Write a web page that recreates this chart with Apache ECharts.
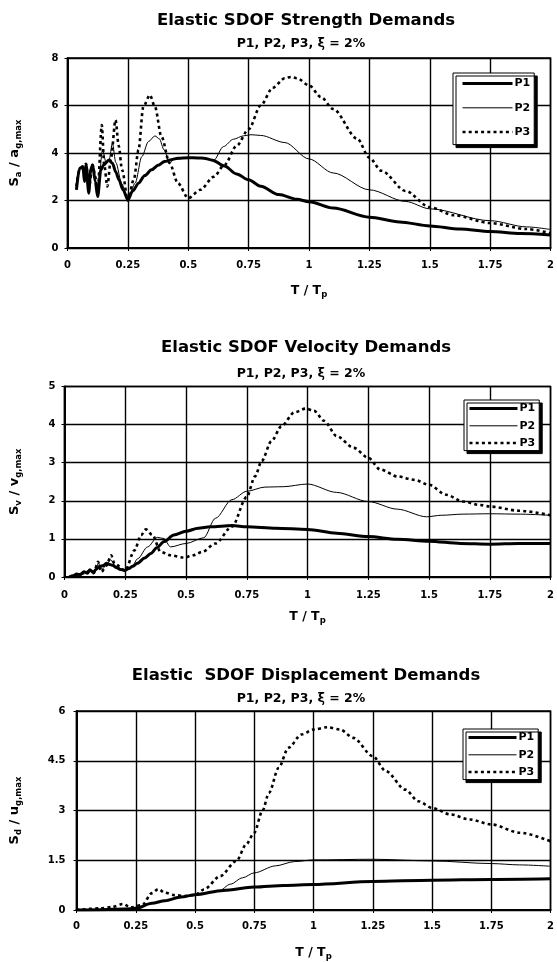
<!DOCTYPE html>
<html><head><meta charset="utf-8">
<script src="https://cdn.jsdelivr.net/npm/echarts@6/dist/echarts.min.js"></script>
<style>html,body{margin:0;padding:0;background:#fff}#c{width:557px;height:962px}</style>
</head><body><div id="c"></div>
<script>
// ---------- Chart 1: Strength demands (Sa / ag,max) ----------
const SA_T1 = [0.037,0.05,0.064,0.07,0.077,0.088,0.096,0.104,0.115,0.125,0.138,0.15,0.172,0.186,0.2,0.213,0.23,0.25,0.27,0.294,0.32,0.348,0.375,0.402,0.43,0.457,0.5,0.54,0.565,0.6,0.65,0.7,0.75,0.8,0.875,0.95,1,1.1,1.25,1.375,1.5,1.625,1.75,1.875,2];
const SA_P1 = [2.45,3.36,3.43,2.8,3.5,2.31,3.3,3.5,2.8,2.17,3.29,3.5,3.71,3.57,3.2,2.87,2.45,2.03,2.4,2.73,3.05,3.29,3.48,3.64,3.72,3.78,3.8,3.79,3.78,3.7,3.45,3.12,2.87,2.6,2.25,2.05,1.95,1.68,1.3,1.1,0.93,0.8,0.69,0.61,0.55];
const SA_T2 = [0.037,0.05,0.064,0.07,0.077,0.088,0.096,0.104,0.115,0.125,0.145,0.16,0.172,0.186,0.2,0.225,0.25,0.28,0.308,0.335,0.362,0.38,0.4,0.423,0.44,0.5,0.55,0.605,0.646,0.687,0.728,0.76,0.8,0.9,1,1.1,1.25,1.4,1.5,1.75,1.9,2];
const SA_P2 = [2.5,3.3,3.4,2.9,3.45,2.35,3.2,3.45,2.8,2.25,4.13,3.6,3.7,4.41,3.6,2.7,2.03,2.73,3.85,4.48,4.72,4.6,4.13,3.57,3.73,3.8,3.79,3.69,4.27,4.58,4.72,4.77,4.74,4.44,3.75,3.16,2.45,1.96,1.65,1.15,0.89,0.78];
const SA_T3 = [0.037,0.05,0.064,0.077,0.088,0.104,0.115,0.125,0.142,0.152,0.165,0.18,0.199,0.212,0.226,0.25,0.275,0.294,0.314,0.341,0.362,0.389,0.423,0.457,0.5,0.55,0.606,0.65,0.7,0.75,0.8,0.85,0.9,0.925,0.95,1,1.05,1.1,1.2,1.25,1.3,1.4,1.5,1.6,1.75,1.9,2];
const SA_P3 = [2.6,3.3,3.4,3.55,2.5,3.5,3.0,2.4,5.18,3.5,2.59,3.8,5.39,4.3,3.29,2.0,2.9,4.13,5.95,6.44,5.95,4.69,3.57,2.73,2.1,2.45,3.0,3.5,4.3,5.0,6.0,6.75,7.15,7.2,7.15,6.85,6.35,5.85,4.6,3.8,3.25,2.4,1.72,1.38,1.05,0.8,0.62];

// ---------- Chart 2: Velocity demands (Sv / vg,max) ----------
const SV_T1 = [0.02,0.035,0.05,0.065,0.08,0.095,0.104,0.118,0.13,0.145,0.16,0.172,0.186,0.2,0.213,0.23,0.247,0.265,0.28,0.3,0.33,0.355,0.38,0.41,0.45,0.5,0.55,0.6,0.69,0.75,0.87,1,1.12,1.25,1.37,1.5,1.63,1.75,1.87,2];
const SV_P1 = [0,0.03,0.08,0.06,0.14,0.1,0.19,0.12,0.2,0.28,0.3,0.36,0.33,0.3,0.25,0.2,0.17,0.22,0.28,0.36,0.5,0.62,0.77,0.93,1.1,1.2,1.28,1.32,1.35,1.32,1.28,1.25,1.15,1.06,0.99,0.94,0.88,0.86,0.88,0.88];
const SV_T2 = [0.02,0.05,0.08,0.104,0.12,0.14,0.155,0.172,0.19,0.21,0.25,0.28,0.301,0.342,0.382,0.409,0.436,0.5,0.573,0.621,0.689,0.75,0.825,0.9,1,1.12,1.25,1.37,1.49,1.55,1.64,1.75,1.87,2];
const SV_P2 = [0,0.07,0.12,0.18,0.13,0.35,0.2,0.32,0.45,0.28,0.17,0.3,0.48,0.79,1.04,1.01,0.79,0.88,1.03,1.54,2.03,2.25,2.36,2.37,2.44,2.22,1.98,1.78,1.58,1.62,1.65,1.66,1.65,1.62];
const SV_T3 = [0.02,0.05,0.08,0.104,0.12,0.138,0.152,0.172,0.192,0.206,0.25,0.288,0.315,0.335,0.362,0.396,0.436,0.49,0.53,0.567,0.621,0.689,0.75,0.784,0.811,0.852,0.893,0.946,0.993,1.027,1.068,1.12,1.19,1.25,1.3,1.37,1.44,1.5,1.57,1.64,1.71,1.75,1.87,2];
const SV_P3 = [0,0.06,0.1,0.15,0.1,0.4,0.13,0.3,0.57,0.35,0.17,0.7,1.1,1.25,1.1,0.66,0.57,0.51,0.57,0.66,0.88,1.32,2.1,2.64,3.04,3.57,3.96,4.32,4.42,4.36,4.1,3.7,3.39,3.13,2.82,2.64,2.55,2.42,2.16,1.98,1.89,1.85,1.74,1.62];

// ---------- Chart 3: Displacement demands (Sd / ug,max) ----------
const SD_T1 = [0,0.1,0.2,0.25,0.318,0.373,0.441,0.5,0.619,0.75,0.875,1,1.25,1.5,1.75,2];
const SD_P1 = [0,0.01,0.03,0.05,0.2,0.28,0.39,0.46,0.59,0.69,0.74,0.77,0.86,0.9,0.92,0.94];
const SD_T2 = [0,0.1,0.2,0.25,0.318,0.373,0.441,0.5,0.6,0.65,0.7,0.75,0.839,0.92,1,1.25,1.5,1.75,1.87,2];
const SD_P2 = [0,0.01,0.04,0.05,0.2,0.28,0.39,0.46,0.57,0.78,0.97,1.12,1.33,1.46,1.51,1.53,1.48,1.4,1.36,1.32];
const SD_T3 = [0,0.1,0.15,0.195,0.23,0.277,0.318,0.345,0.373,0.414,0.455,0.5,0.538,0.606,0.675,0.716,0.75,0.784,0.812,0.853,0.894,0.949,1,1.058,1.113,1.168,1.25,1.305,1.387,1.442,1.5,1.578,1.66,1.75,1.87,2];
const SD_P3 = [0,0.05,0.09,0.18,0.08,0.15,0.51,0.63,0.52,0.45,0.42,0.45,0.62,1.02,1.48,1.98,2.33,2.98,3.53,4.29,4.89,5.29,5.44,5.51,5.44,5.19,4.64,4.19,3.63,3.28,3.08,2.88,2.73,2.58,2.33,2.07];

const TITLES = ['Elastic SDOF Strength Demands','Elastic SDOF Velocity Demands','Elastic  SDOF Displacement Demands'];
const SUBTITLE = 'P1, P2, P3, \u03BE = 2%';
const YNAMES = [['S','a',' / a','g,max'],['S','v',' / v','g,max'],['S','d',' / u','g,max']];
const YMAX = [8,5,6];
const YINT = [2,1,1.5];
const SERIES_NAMES = ['P1','P2','P3'];

const F = '"DejaVu Sans"';
const pair = (T,V) => T.map((t,i)=>[t,V[i]]);

const layout = [
  {left:61, top:58, width:492, height:190, titleY:20.5, subY:43.5, xName:35, xMargin:12, yGap:44, yMargin:9, lg:{left:453, top:73, pad:[5,4,7,8], gap:13, iw:50}},
  {left:61, top:386.5, width:492, height:190.5, titleY:348, subY:374, xName:32, xMargin:13, yGap:41, yMargin:9, lg:{left:464, top:400, pad:[3,4,2,4], gap:6, iw:48}},
  {left:69, top:711, width:487, height:199.7, titleY:675.5, subY:699, xName:35, xMargin:11, yGap:53, yMargin:11, lg:{left:463, top:729, pad:[3,4,2,4], gap:6, iw:48}}
];

const data = [
  [pair(SA_T1,SA_P1),pair(SA_T2,SA_P2),pair(SA_T3,SA_P3)],
  [pair(SV_T1,SV_P1),pair(SV_T2,SV_P2),pair(SV_T3,SV_P3)],
  [pair(SD_T1,SD_P1),pair(SD_T2,SD_P2),pair(SD_T3,SD_P3)]
];

const lineStyles = [
  {color:'#000', width:3},
  {color:'#000', width:1},
  {color:'#000', width:2.6, type:[3,3.2]}
];

const grids=[], xAxes=[], yAxes=[], series=[], legends=[], graphics=[];
layout.forEach((L,k)=>{
  grids.push({left:L.left, top:L.top, width:L.width, height:L.height, show:true, borderColor:'#000', borderWidth:1.5, containLabel:false});
  xAxes.push({type:'value', gridIndex:k, min:0, max:2, interval:0.25,
    name:'{m|T / T}{s|p}', nameLocation:'middle', nameGap:L.xName,
    nameTextStyle:{rich:{m:{fontFamily:F, fontWeight:'bold', fontSize:12.5, lineHeight:16, color:'#000'}, s:{fontFamily:F, fontWeight:'bold', fontSize:8.5, lineHeight:9, verticalAlign:'bottom', color:'#000'}}},
    axisLine:{show:true, lineStyle:{color:'#000', width:2}},
    axisTick:{show:true, length:3, lineStyle:{color:'#000', width:1}},
    axisLabel:{color:'#000', fontFamily:F, fontWeight:'bold', fontSize:10, margin:L.xMargin},
    splitLine:{show:true, lineStyle:{color:'#000', width:1.4}}
  });
  const yn = YNAMES[k];
  yAxes.push({type:'value', gridIndex:k, min:0, max:YMAX[k], interval:YINT[k],
    name:'{m|'+yn[0]+'}{s|'+yn[1]+'}{m|'+yn[2]+'}{s|'+yn[3]+'}', nameLocation:'middle', nameGap:L.yGap, nameRotate:90,
    nameTextStyle:{rich:{m:{fontFamily:F, fontWeight:'bold', fontSize:13, lineHeight:18, color:'#000'}, s:{fontFamily:F, fontWeight:'bold', fontSize:8.5, lineHeight:9, verticalAlign:'bottom', color:'#000'}}},
    axisLine:{show:true, lineStyle:{color:'#000', width:2}},
    axisTick:{show:true, length:3, lineStyle:{color:'#000', width:1}},
    axisLabel:{color:'#000', fontFamily:F, fontWeight:'bold', fontSize:10, margin:L.yMargin},
    splitLine:{show:true, lineStyle:{color:'#000', width:1.4}}
  });
  SERIES_NAMES.forEach((nm,j)=>{
    series.push({name:nm, type:'line', xAxisIndex:k, yAxisIndex:k, data:data[k][j],
      showSymbol:false, symbol:'none', smooth:0.3, smoothMonotone:'x',
      lineStyle:Object.assign({cap:'butt'}, lineStyles[j]), itemStyle:{color:'#000'},
      emphasis:{disabled:true}, animation:false, z:2+j});
  });
  legends.push({show:true, orient:'vertical', left:L.lg.left, top:L.lg.top,
    data:SERIES_NAMES.map((nm,j)=>({name:nm, lineStyle:{color:'#000', width:lineStyles[j].width, type:lineStyles[j].type||'solid'}})),
    padding:L.lg.pad, itemGap:L.lg.gap, itemWidth:L.lg.iw, itemHeight:14,
    backgroundColor:'#fff', borderColor:'#000', borderWidth:1,
    shadowColor:'#000', shadowBlur:0, shadowOffsetX:3, shadowOffsetY:3,
    itemStyle:{color:'rgba(0,0,0,0)', borderColor:'rgba(0,0,0,0)', borderWidth:0},
    textStyle:{color:'#000', fontFamily:F, fontWeight:'bold', fontSize:11, padding:[0,0,0,-3]},
    selectedMode:false, z:10});
  graphics.push({type:'text', x:306, y:L.titleY, z:10, style:{text:TITLES[k], font:'bold 16.5px '+F, fill:'#000', align:'center', verticalAlign:'middle', textAlign:'center', textVerticalAlign:'middle'}});
  graphics.push({type:'text', x:301, y:L.subY, z:10, style:{text:SUBTITLE, font:'bold 12.5px '+F, fill:'#000', align:'center', verticalAlign:'middle', textAlign:'center', textVerticalAlign:'middle'}});
});

const chart = echarts.init(document.getElementById('c'), null, {renderer:'canvas'});
chart.setOption({
  backgroundColor:'#fff', animation:false,
  grid:grids, xAxis:xAxes, yAxis:yAxes, series:series, legend:legends, graphic:graphics
});
</script></body></html>
